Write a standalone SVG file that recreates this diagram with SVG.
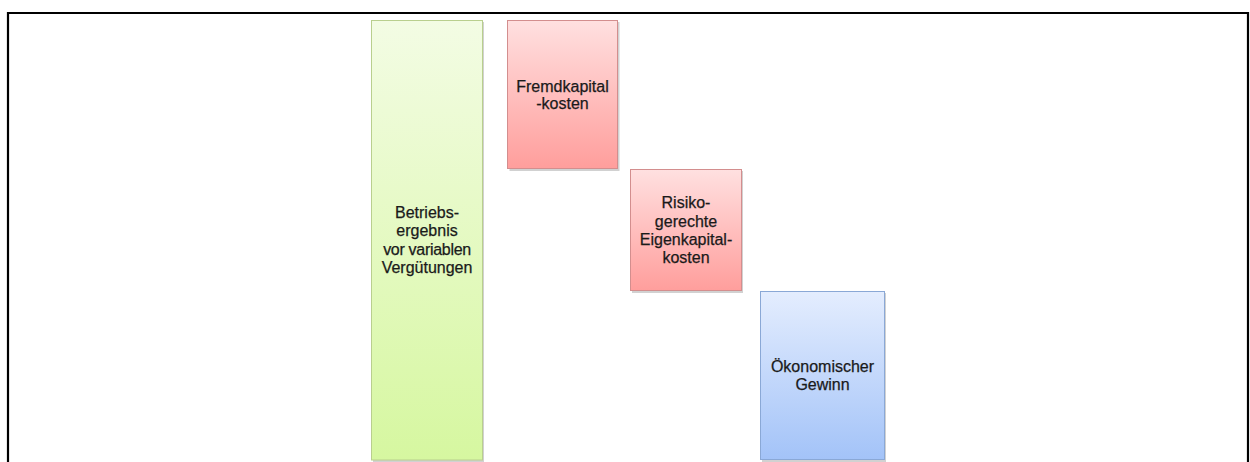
<svg xmlns="http://www.w3.org/2000/svg" width="1250" height="462" viewBox="0 0 1250 462">
<defs>
<linearGradient id="gGreen" x1="0" y1="0" x2="0" y2="1"><stop offset="0" stop-color="#F3FCE4"/><stop offset="1" stop-color="#D6F7A0"/></linearGradient>
<linearGradient id="gRed" x1="0" y1="0" x2="0" y2="1"><stop offset="0" stop-color="#FFE0E0"/><stop offset="1" stop-color="#FF9E9C"/></linearGradient>
<linearGradient id="gBlue" x1="0" y1="0" x2="0" y2="1"><stop offset="0" stop-color="#E4EDFE"/><stop offset="1" stop-color="#A3C3F8"/></linearGradient>
</defs>
<style>
text{font-family:"Liberation Sans",Arial,sans-serif;font-size:16px;fill:#1a1a1a;text-anchor:middle;stroke:#1a1a1a;stroke-width:0.25}
.shadow{fill:#000;opacity:0.18}
.green{fill:url(#gGreen);stroke:#B9CF8E;stroke-width:1}
.red{fill:url(#gRed);stroke:#D38E8E;stroke-width:1}
.blue{fill:url(#gBlue);stroke:#8AA8D6;stroke-width:1}
</style>
<rect width="1250" height="462" fill="#fff"/>
<path d="M8 462 V13 H1248 V462" fill="none" stroke="#000" stroke-width="2.2"/>
<g id="connectors"/>
<g id="betriebsergebnis">
<rect class="shadow" x="373" y="22" width="111" height="440"/>
<rect class="green" x="371.5" y="20.5" width="111" height="439.5"/>
<text x="427" y="218">Betriebs-</text>
<text x="427" y="236">ergebnis</text>
<text x="427" y="255" letter-spacing="-0.3">vor variablen</text>
<text x="427" y="273">Vergütungen</text>
</g>
<g id="fremdkapitalkosten">
<rect class="shadow" x="509.5" y="22" width="110" height="149"/>
<rect class="red" x="507.5" y="20.5" width="110" height="148"/>
<text x="562.5" y="92">Fremdkapital</text>
<text x="562.5" y="109">-kosten</text>
</g>
<g id="eigenkapitalkosten">
<rect class="shadow" x="632" y="171" width="111" height="122"/>
<rect class="red" x="630.5" y="169.5" width="111" height="121"/>
<text x="686" y="208">Risiko-</text>
<text x="686" y="227">gerechte</text>
<text x="686" y="245">Eigenkapital-</text>
<text x="686" y="263">kosten</text>
</g>
<g id="oekonomischer-gewinn">
<rect class="shadow" x="762" y="293" width="124" height="169"/>
<rect class="blue" x="760.5" y="291.5" width="124" height="168"/>
<text x="822.5" y="372">Ökonomischer</text>
<text x="822.5" y="390">Gewinn</text>
</g>
</svg>
